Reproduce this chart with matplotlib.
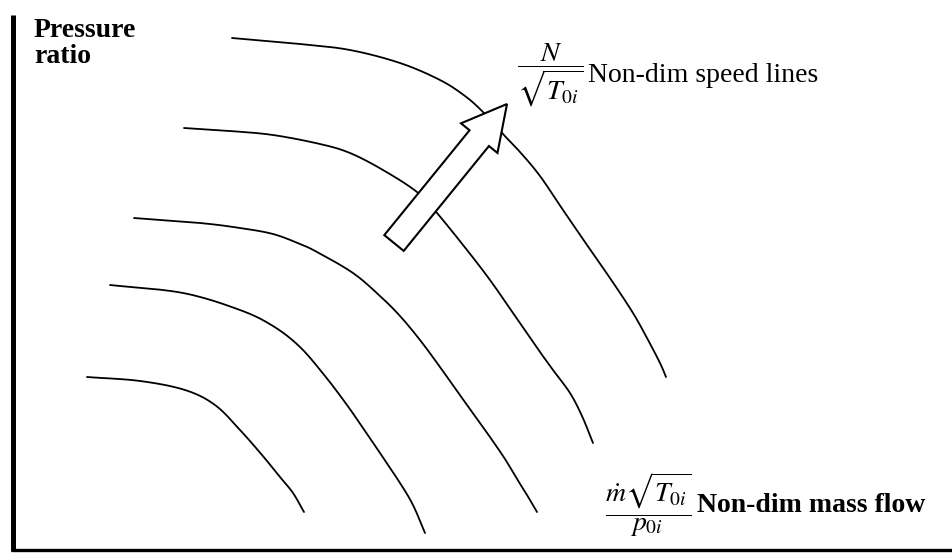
import numpy as np
import matplotlib
matplotlib.use("Agg")
import matplotlib.pyplot as plt
from matplotlib.patches import FancyArrow

plt.rcParams['mathtext.fontset'] = 'stix'

# speed lines, x = mass flow, y = height from top (axis inverted below)
line1_x = [232, 300, 350, 400, 440, 465, 483, 502, 520, 540, 563, 587, 612, 633, 647, 660, 666]
line1_y = [38, 44, 50, 63, 80, 96, 112, 133, 152, 176, 210, 245, 281, 313, 338, 363, 377]
line2_x = [184, 230, 273, 320, 350, 383, 417, 437, 467, 490, 513, 535, 553, 570, 582, 593]
line2_y = [128, 131, 135, 144, 153, 170, 192, 213, 250, 280, 313, 345, 370, 393, 416, 443]
line3_x = [134, 200, 240, 273, 300, 317, 353, 380, 400, 420, 440, 457, 475, 490, 505, 517, 527, 537]
line3_y = [218, 223, 228, 234, 244, 252, 273, 296, 316, 340, 367, 391, 416, 437, 459, 479, 495, 512]
line4_x = [110, 183, 240, 273, 300, 325, 347, 365, 380, 400, 413, 425]
line4_y = [285, 293, 310, 326, 347, 376, 405, 431, 453, 483, 505, 533]
line5_x = [87, 140, 185, 215, 240, 262, 280, 293, 304]
line5_y = [377, 381, 390, 405, 430, 455, 477, 493, 512]

speed_lines = [(line1_x, line1_y), (line2_x, line2_y), (line3_x, line3_y),
               (line4_x, line4_y), (line5_x, line5_y)]

# direction of increasing speed
arrow_tail = (394, 243)
arrow_tip = (507, 104)


def smooth(xs, ys, n=12):
    # catmull-rom through the given points, only for a softer stroke
    p = np.column_stack([xs, ys]).astype(float)
    p = np.vstack([2 * p[0] - p[1], p, 2 * p[-1] - p[-2]])
    t = np.linspace(0, 1, n, endpoint=False)[:, None]
    out = []
    for i in range(1, len(p) - 2):
        p0, p1, p2, p3 = p[i - 1], p[i], p[i + 1], p[i + 2]
        seg = 0.5 * (2 * p1 + (-p0 + p2) * t + (2 * p0 - 5 * p1 + 4 * p2 - p3) * t ** 2
                     + (-p0 + 3 * p1 - 3 * p2 + p3) * t ** 3)
        out.append(seg)
    out.append(p[-2][None, :])
    out = np.vstack(out)
    return out[:, 0], out[:, 1]


fig = plt.figure(figsize=(9.53, 5.54), dpi=100)
ax = fig.add_axes([0, 0, 1, 1])
ax.set_xlim(0, 953)
ax.set_ylim(554, 0)
ax.axis('off')

for xs, ys in speed_lines:
    sx, sy = smooth(xs, ys)
    ax.plot(sx, sy, color='black', lw=1.3, solid_capstyle='round', zorder=2)

# axes drawn by hand
ax.plot([13, 13], [15, 551], color='black', lw=3.6, solid_capstyle='butt', zorder=3)
ax.plot([11, 953], [550, 550], color='black', lw=2.4, solid_capstyle='butt', zorder=3)

arr = FancyArrow(arrow_tail[0], arrow_tail[1],
                 arrow_tip[0] - arrow_tail[0], arrow_tip[1] - arrow_tail[1],
                 width=25, head_width=47, head_length=44, length_includes_head=True,
                 facecolor='white', edgecolor='black', lw=1.5, zorder=4)
ax.add_patch(arr)

serif = 'Liberation Serif'
ax.text(34, 18, 'Pressure\nratio', fontfamily=serif, fontweight='bold', fontsize=20,
        ha='left', va='top', linespacing=1.05)

ax.text(517, 75, r'$\dfrac{N}{\sqrt{T_{0i}}}$', fontsize=20, ha='left', va='center')
ax.text(588, 82, 'Non-dim speed lines', fontfamily=serif, fontsize=20,
        ha='left', va='baseline')

ax.text(605, 505, r'$\dfrac{\dot{m}\sqrt{T_{0i}}}{p_{0i}}$', fontsize=20, ha='left', va='center')
ax.text(697, 512, 'Non-dim mass flow', fontfamily=serif, fontweight='bold', fontsize=20,
        ha='left', va='baseline')

fig.savefig('out.png', dpi=100)
